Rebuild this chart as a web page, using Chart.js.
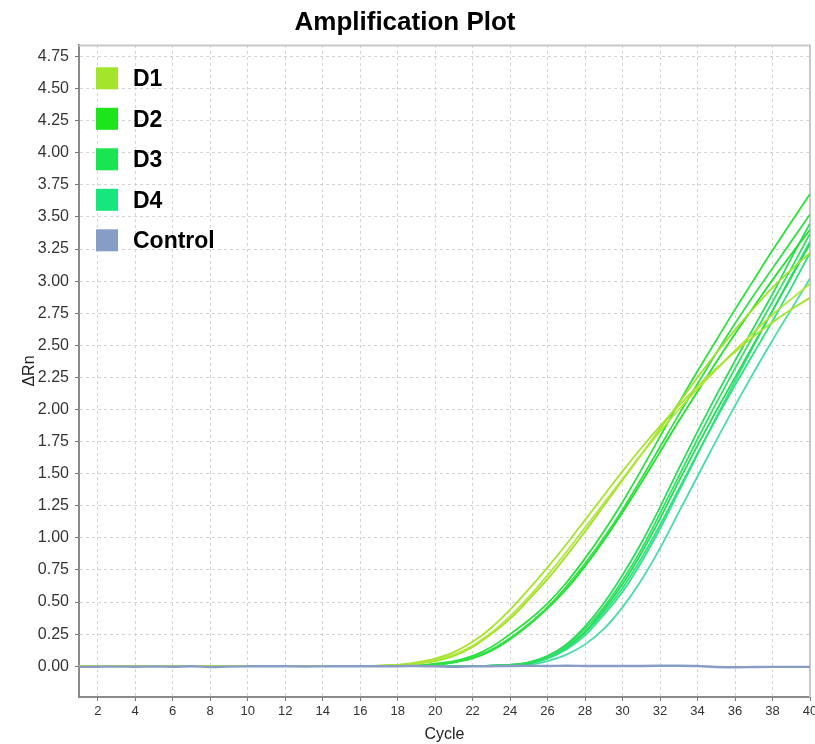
<!DOCTYPE html>
<html><head><meta charset="utf-8">
<script src="https://cdn.jsdelivr.net/npm/chart.js@4.4.1/dist/chart.umd.min.js"></script>
<style>html,body{margin:0;padding:0;background:#fff;}</style>
</head><body>
<canvas id="c" width="815" height="744"></canvas>
<script>
// ---------- data ----------
const cycles = [1,2,3,4,5,6,7,8,9,10,11,12,13,14,15,16,17,18,19,20,21,22,23,24,25,26,27,28,29,30,31,32,33,34,35,36,37,38,39,40];
const xTicks = [2,4,6,8,10,12,14,16,18,20,22,24,26,28,30,32,34,36,38,40];
const yTicks = [0,0.25,0.5,0.75,1,1.25,1.5,1.75,2,2.25,2.5,2.75,3,3.25,3.5,3.75,4,4.25,4.5,4.75];
const groupNames = ['D1','D2','D3','D4','Control'];

const d1a = [0,0,0,0,0,0,0,0,0,0,0,0,0,0,0,0,0.005,0.01,0.03,0.06,0.11,0.19,0.30,0.44,0.60,0.77,0.95,1.14,1.33,1.52,1.70,1.87,2.03,2.18,2.32,2.45,2.57,2.68,2.78,2.87];
const d1b = [0,0,0,0,0,0,0,0,0,0,0,0,0,0,0,0,0.004,0.01,0.02,0.05,0.09,0.16,0.26,0.39,0.54,0.71,0.89,1.08,1.27,1.46,1.65,1.83,2.00,2.16,2.31,2.46,2.60,2.74,2.86,2.98];
const d1c = [0,0,0,0,0,0,0,0,0,0,0,0,0,0,0,0,0.003,0.01,0.02,0.04,0.08,0.15,0.25,0.37,0.52,0.68,0.86,1.05,1.25,1.45,1.65,1.85,2.05,2.25,2.44,2.62,2.79,2.95,3.09,3.22];

const d2a = [0,0,0,0,0,0,0,0,0,0,0,0,0,0,0,0,0,0,0.005,0.02,0.04,0.08,0.15,0.25,0.36,0.49,0.65,0.84,1.05,1.28,1.53,1.79,2.05,2.30,2.54,2.78,3.01,3.24,3.46,3.68];
const d2b = [0,0,0,0,0,0,0,0,0,0,0,0,0,0,0,0,0,0,0.005,0.01,0.03,0.07,0.13,0.22,0.33,0.46,0.62,0.80,1.00,1.22,1.46,1.71,1.96,2.20,2.44,2.67,2.89,3.10,3.31,3.52];
const d2c = [0,0,0,0,0,0,0,0,0,0,0,0,0,0,0,0,0,0,0.004,0.01,0.03,0.06,0.12,0.21,0.32,0.45,0.60,0.78,0.98,1.20,1.43,1.67,1.91,2.14,2.37,2.59,2.80,3.01,3.21,3.40];

const d3a = [0,0,0,0,0,0,0,0,0,0,0,0,0,0,0,0,0,0,0,0,0,0,0.005,0.01,0.03,0.08,0.17,0.31,0.49,0.71,0.96,1.24,1.54,1.83,2.11,2.38,2.64,2.90,3.18,3.45];
const d3b = [0,0,0,0,0,0,0,0,0,0,0,0,0,0,0,0,0,0,0,0,0,0,0.005,0.01,0.03,0.07,0.16,0.29,0.46,0.67,0.91,1.19,1.48,1.77,2.05,2.32,2.58,2.84,3.10,3.37];
const d3c = [0,0,0,0,0,0,0,0,0,0,0,0,0,0,0,0,0,0,0,0,0,0,0.004,0.01,0.02,0.07,0.15,0.27,0.44,0.64,0.88,1.15,1.44,1.72,1.99,2.25,2.51,2.77,3.03,3.29];

const d4a = [0,0,0,0,0,0,0,0,0,0,0,0,0,0,0,0,0,0,0,0,0,0,0.004,0.01,0.02,0.06,0.14,0.26,0.42,0.61,0.84,1.10,1.38,1.66,1.93,2.19,2.44,2.69,2.95,3.22];
const d4b = [0,0,0,0,0,0,0,0,0,0,0,0,0,0,0,0,0,0,0,0,0,0,0.003,0.01,0.02,0.06,0.13,0.24,0.40,0.58,0.81,1.07,1.36,1.65,1.94,2.22,2.50,2.77,3.04,3.31];
const d4c = [0,0,0,0,0,0,0,0,0,0,0,0,0,0,0,0,0,0,0,0,0,0,0.000,0.004,0.01,0.04,0.09,0.17,0.29,0.46,0.67,0.92,1.20,1.48,1.76,2.03,2.29,2.54,2.78,3.02];

const control = [-0.005,-0.004,-0.003,-0.004,-0.002,-0.004,0.000,-0.006,-0.003,-0.001,0,0,-0.002,-0.001,0,0,0,0,0.002,0,-0.004,-0.001,0,0.002,0.003,0.002,0.003,0.002,0.001,0.001,0.002,0.003,0.004,0.002,-0.006,-0.008,-0.006,-0.005,-0.005,-0.005];

const groups = [
  {name: groupNames[0], curves: [d1a, d1b, d1c]},
  {name: groupNames[1], curves: [d2a, d2b, d2c]},
  {name: groupNames[2], curves: [d3a, d3b, d3c]},
  {name: groupNames[3], curves: [d4a, d4b, d4c]},
  {name: groupNames[4], curves: [control]}
];

// ---------- styles ----------
const legendColors = ['#A3E52A','#1CE51C','#19E552','#17E67C','#889DC6'];
const curveColors = [
  ['#a6e42e','#b2e63c','#9fe22c'],
  ['#2ce23c','#36de4a','#24e030'],
  ['#2cdc5a','#34e066','#26dc54'],
  ['#30e080','#3ade8e','#4adca6'],
  ['#889DC6']
];
const FONT = '"Liberation Sans", Arial, sans-serif';

const datasets = [];
groups.forEach((g, gi) => {
  g.curves.forEach((vals, ci) => {
    const isControl = gi === 4;
    datasets.push({
      label: g.name,
      data: cycles.map((c, i) => ({x: c, y: vals[i]})),
      borderColor: curveColors[gi][ci],
      backgroundColor: legendColors[gi],
      borderWidth: isControl ? 2.4 : 1.8,
      pointRadius: 0,
      cubicInterpolationMode: 'monotone',
      fill: false,
      order: isControl ? 0 : 1
    });
  });
});

const legendPlugin = {
  id: 'customLegend',
  afterDraw(chart) {
    const ctx = chart.ctx;
    ctx.save();
    ctx.font = 'bold 23px ' + FONT;
    ctx.textBaseline = 'alphabetic';
    ctx.textAlign = 'left';
    groupNames.forEach((name, i) => {
      const y = 67.3 + i * 40.5;
      ctx.fillStyle = legendColors[i];
      ctx.fillRect(96, y, 22, 22);
      ctx.fillStyle = '#000';
      ctx.fillText(name, 133, y + 19);
    });
    ctx.restore();
  }
};

const framePlugin = {
  id: 'frame',
  beforeDatasetsDraw(chart) {
    const a = chart.chartArea, ctx = chart.ctx;
    ctx.save();
    ctx.strokeStyle = '#c8c8c8';
    ctx.lineWidth = 2;
    ctx.setLineDash([]);
    ctx.beginPath();
    ctx.moveTo(a.left, a.top + 0.5);
    ctx.lineTo(a.right, a.top + 0.5);
    ctx.lineTo(a.right, a.bottom);
    ctx.stroke();
    ctx.restore();
  }
};

const gridOpts = {
  color: '#d4d4d4', lineWidth: 1,
  drawTicks: true, tickLength: 4, tickColor: '#777', tickBorderDash: [], tickWidth: 1
};

new Chart(document.getElementById('c'), {
  type: 'line',
  data: {datasets},
  plugins: [framePlugin, legendPlugin],
  options: {
    responsive: false,
    animation: false,
    devicePixelRatio: 1,
    layout: {padding: {left: 0, right: 5, top: 0, bottom: 0}},
    plugins: {
      legend: {display: false},
      tooltip: {enabled: false},
      title: {
        display: true,
        text: 'Amplification Plot',
        color: '#000',
        font: {family: FONT, size: 26, weight: 'bold'},
        padding: {top: 7, bottom: 6.8}
      }
    },
    scales: {
      x: {
        type: 'linear',
        min: 1, max: 40,
        afterBuildTicks: s => { s.ticks = xTicks.map(v => ({value: v})); },
        afterFit: s => { s.height = 47; s.paddingRight = 5; },
        ticks: {
          color: '#333', font: {family: FONT, size: 13}, padding: 3,
          maxRotation: 0, autoSkip: false,
          callback: v => String(v)
        },
        grid: gridOpts,
        border: {display: true, color: '#8a8a8a', width: 2, dash: [3, 3]},
        title: {
          display: true, text: 'Cycle', color: '#222',
          font: {family: FONT, size: 16}, padding: {top: 0, bottom: 0}
        }
      },
      y: {
        type: 'linear',
        min: -0.24, max: 4.84,
        afterBuildTicks: s => { s.ticks = yTicks.map(v => ({value: v})); },
        afterFit: s => { s.width = 79; },
        ticks: {
          color: '#333', font: {family: FONT, size: 16}, padding: 6,
          autoSkip: false,
          callback: v => Number(v).toFixed(2)
        },
        grid: gridOpts,
        border: {display: true, color: '#8a8a8a', width: 2, dash: [3, 3]},
        title: {
          display: true, text: 'ΔRn', color: '#222',
          font: {family: FONT, size: 16}, padding: {top: 20, bottom: 0}
        }
      }
    }
  }
});
</script>
</body></html>
